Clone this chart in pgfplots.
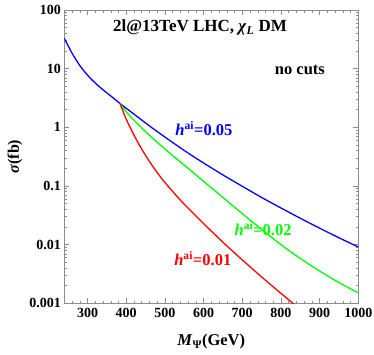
\documentclass[border=0pt]{standalone}
\usepackage{pgfplots}
\pgfplotsset{compat=1.18}
\usepackage{fontspec}
\setmainfont{Liberation Serif}

\definecolor{mmablue}{rgb}{0,0,1}
\definecolor{mmagreen}{rgb}{0,1,0}
\definecolor{mmared}{rgb}{1,0,0}

\begin{document}
\begin{tikzpicture}
\begin{axis}[
    at={(0pt,0pt)}, anchor=south west,
    scale only axis,
    width=294pt, height=293.3pt,
    ymode=log,
    xmin=240, xmax=1000,
    ymin=0.001, ymax=100,
    xtick={300,400,...,1000},
    xticklabels={300,400,500,600,700,800,900,1000},
    minor xtick={240,260,...,1000},
    ytick={0.001,0.01,0.1,1,10,100},
    yticklabels={0.001,0.01,0.1,1,10,100},
    minor ytick={0.002,0.003,0.004,0.005,0.006,0.007,0.008,0.009,
                 0.02,0.03,0.04,0.05,0.06,0.07,0.08,0.09,
                 0.2,0.3,0.4,0.5,0.6,0.7,0.8,0.9,
                 2,3,4,5,6,7,8,9,20,30,40,50,60,70,80,90},
    tick align=inside,
    major tick length=5pt, minor tick length=2.8pt,
    axis line style={draw=black!45},
    every tick/.style={draw=black!45},
    tick label style={font=\fontsize{14}{16}\selectfont\bfseries},
    xticklabel style={yshift=-1.5pt},
    every axis x label/.style={at={(axis description cs:0.5,0)}, yshift=-38.4pt, anchor=center},
    every axis y label/.style={at={(axis description cs:0,0.5)}, xshift=-49.3pt, rotate=90, anchor=center},
    xlabel={\fontsize{16.5}{18}\selectfont\bfseries\textit{M}\textsubscript{Ψ}(GeV)},
    ylabel={\fontsize{16}{18}\selectfont\bfseries\textit{σ}(fb)},
]
\addplot[mmablue, line width=1.3pt, smooth] coordinates {
    (240,32.9) (260,18.4) (280,11.35) (300,7.76) (320,5.69) (340,4.37)
    (360,3.43) (384,2.55) (420,1.679) (460,1.059) (500,0.684) (540,0.447)
    (580,0.299) (620,0.204) (660,0.141) (700,0.0989) (750,0.0638)
    (800,0.0422) (850,0.0282) (900,0.0191) (950,0.0131) (1000,0.00912)
};
\addplot[mmagreen, line width=1.3pt, smooth] coordinates {
    (384,2.55) (395,2.04) (410,1.549) (430,1.135) (460,0.733) (500,0.427)
    (540,0.257) (580,0.155) (620,0.0933) (660,0.0562) (700,0.0339)
    (750,0.0182) (800,0.0100) (850,0.00582) (900,0.00355) (950,0.00226)
    (1000,0.00151)
};
\addplot[mmared, line width=1.3pt, smooth] coordinates {
    (384,2.55) (400,1.38) (420,0.741) (440,0.427) (460,0.263) (480,0.170)
    (500,0.115) (540,0.0575) (580,0.0309) (620,0.0170) (660,0.00955)
    (700,0.00550) (750,0.00282) (800,0.00148) (836,0.00094)
};
\node[font=\fontsize{17}{19}\selectfont\bfseries] at (axis cs:591,50)
    {2l@13TeV LHC, \textit{χ}\textsubscript{\textit{L}} DM};
\node[font=\fontsize{16.5}{18}\selectfont\bfseries] at (axis cs:849,9.5) {no cuts};
\node[font=\fontsize{16.5}{18}\selectfont\bfseries, text=mmablue] at (axis cs:601,0.96)
    {\textit{h}\textsuperscript{ai}=0.05};
\node[font=\fontsize{16.5}{18}\selectfont\bfseries, text=mmagreen] at (axis cs:754,0.019)
    {\textit{h}\textsuperscript{ai}=0.02};
\node[font=\fontsize{16.5}{18}\selectfont\bfseries, text=mmared] at (axis cs:598,0.00586)
    {\textit{h}\textsuperscript{ai}=0.01};
\end{axis}
\pgfresetboundingbox
\useasboundingbox (-64.3pt,-50.7pt) rectangle (309.7pt,303.3pt);
\end{tikzpicture}
\end{document}
